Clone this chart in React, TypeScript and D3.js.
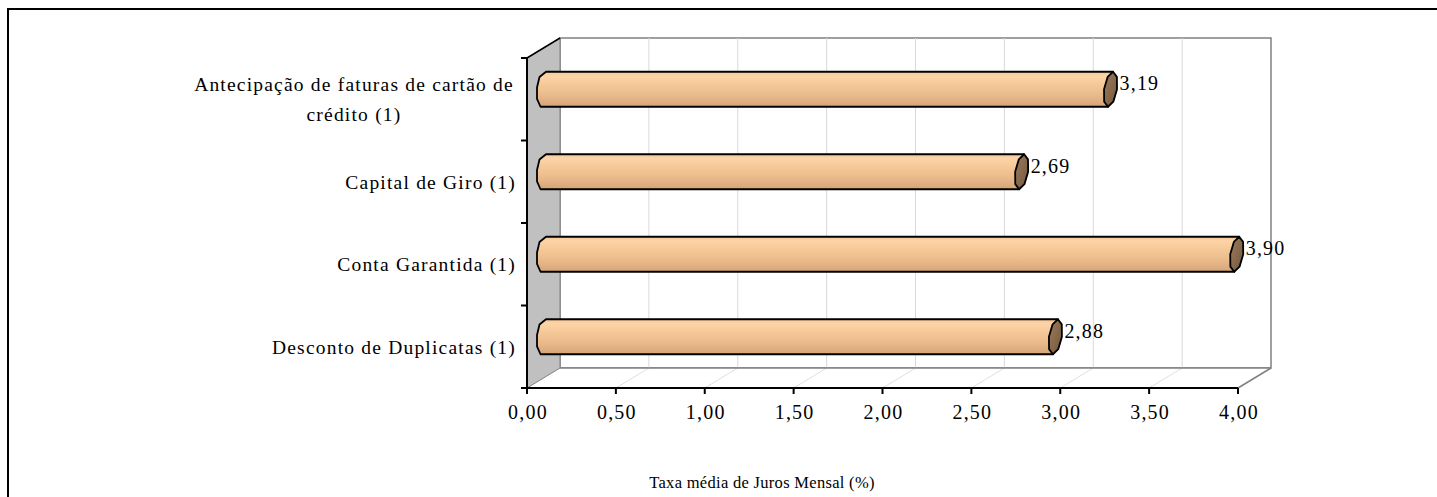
import * as d3 from "d3";
import React from "react";

// categories top -> bottom, as in the picture
const CATEGORIES = [
  ["Antecipação de faturas de cartão de", "crédito (1)"],
  ["Capital de Giro (1)"],
  ["Conta Garantida (1)"],
  ["Desconto de Duplicatas (1)"],
];
const VALUES = [3.19, 2.69, 3.9, 2.88];
const TICKS = [0, 0.5, 1, 1.5, 2, 2.5, 3, 3.5, 4];
const AXIS_TITLE = "Taxa média de Juros Mensal (%)";

const W = 1437;
const H = 497;
const FONT = "'Liberation Serif', 'Times New Roman', serif";

// 3d depth offset
const DX = 33;
const DY = -20;

const fmt = (v: number) => v.toFixed(2).replace(".", ",");

export default function App() {
  const keys = CATEGORIES.map((c) => c.join(" "));
  const x = d3.scaleLinear().domain([0, 4]).range([527, 1238]);
  const y = d3.scaleBand<string>().domain(keys).range([58, 388]);

  const top = 58, bot = 388;
  const x0 = x(0), x1 = x(4);
  const barH = 35;
  const midDx = DX / 2, midDy = DY / 2;

  const line = d3.line<[number, number]>().curve(d3.curveLinearClosed);

  // low poly slanted end of the cylinder
  const capPts = (cx: number, cy: number, ry: number): [number, number][] => {
    const rx = 6.5;
    const pts: [number, number][] = [];
    for (let k = 0; k < 8; k++) {
      const t = (k / 8) * Math.PI * 2 - Math.PI / 2;
      const sy = Math.sin(t);
      pts.push([cx + rx * Math.cos(t) - sy * 2.5, cy + ry * sy]);
    }
    return pts;
  };

  return (
    <div style={{ position: "fixed", left: 0, top: 0, width: W, height: H, background: "#fff" }}>
      <svg width={W} height={H} style={{ display: "block" }} fontFamily={FONT}>
        <defs>
          <linearGradient id="body" x1="0" y1="0" x2="0" y2="1">
            <stop offset="0%" stopColor="#f6c898" />
            <stop offset="12%" stopColor="#fdd4a8" />
            <stop offset="30%" stopColor="#f8cb9b" />
            <stop offset="55%" stopColor="#efc090" />
            <stop offset="80%" stopColor="#e2b284" />
            <stop offset="100%" stopColor="#d3a476" />
          </linearGradient>
          <linearGradient id="cap" x1="0" y1="0" x2="1" y2="1">
            <stop offset="0%" stopColor="#9a7b5c" />
            <stop offset="60%" stopColor="#84664a" />
            <stop offset="100%" stopColor="#6f553c" />
          </linearGradient>
        </defs>

        {/* outer frame */}
        <rect x={8} y={9} width={W + 20} height={H + 20} fill="none" stroke="#000" strokeWidth={2} />

        {/* back wall */}
        <rect x={x0 + DX} y={top + DY} width={x1 - x0} height={bot - top} fill="#fff" stroke="#808080" strokeWidth={1.5} />
        {TICKS.slice(1, -1).map((t) => (
          <line key={"g" + t} x1={x(t) + DX} x2={x(t) + DX} y1={top + DY} y2={bot + DY} stroke="#d9d9d9" strokeWidth={1} />
        ))}

        {/* floor */}
        <path
          d={line([[x0, bot], [x1, bot], [x1 + DX, bot + DY], [x0 + DX, bot + DY]])!}
          fill="#fff"
          stroke="none"
        />
        {TICKS.slice(1, -1).map((t) => (
          <line key={"f" + t} x1={x(t)} x2={x(t) + DX} y1={bot} y2={bot + DY} stroke="#e0e0e0" strokeWidth={1} />
        ))}
        <line x1={x1} x2={x1 + DX} y1={bot} y2={bot + DY} stroke="#808080" strokeWidth={1.5} />
        <line x1={x0 + DX} x2={x1 + DX} y1={bot + DY} y2={bot + DY} stroke="#808080" strokeWidth={1.5} />

        {/* side wall */}
        <path
          d={line([[x0, top], [x0 + DX, top + DY], [x0 + DX, bot + DY], [x0, bot]])!}
          fill="#c0c0c0"
          stroke="#808080"
          strokeWidth={1}
        />
        <line x1={x0} x2={x0 + DX} y1={top} y2={top + DY} stroke="#000" strokeWidth={1.5} />

        {/* bars */}
        {keys.map((k, i) => {
          const cy = (y(k) ?? 0) + y.bandwidth() / 2 + midDy;
          const xl = x0 + midDx;
          const xr = x(VALUES[i]) + midDx;
          const ry = barH / 2;
          const leftHalf: [number, number][] = [
            [xl + 2.5, cy - ry],
            [xl - 4, cy - ry * 0.7],
            [xl - 6.5, cy - ry * 0.1],
            [xl - 6.5, cy + ry * 0.55],
            [xl - 3, cy + ry],
          ];
          const body: [number, number][] = [
            [xl + 2.5, cy - ry],
            [xr + 2.5, cy - ry],
            [xr - 2.5, cy + ry],
            [xl - 3, cy + ry],
            ...leftHalf.slice(1, -1).reverse(),
          ];
          return (
            <g key={k}>
              <path d={line(body)!} fill="url(#body)" stroke="#000" strokeWidth={1.8} strokeLinejoin="round" />
              <path d={line(capPts(xr, cy, ry))!} fill="url(#cap)" stroke="#000" strokeWidth={1.8} strokeLinejoin="round" />
              <text x={xr + 9} y={cy - 1} dy="0.1em" fontSize={20} letterSpacing={1.2} fill="#000">
                {fmt(VALUES[i])}
              </text>
            </g>
          );
        })}

        {/* front left axis */}
        <line x1={x0} x2={x0} y1={top} y2={bot} stroke="#000" strokeWidth={2} />
        {d3.range(keys.length + 1).map((i) => {
          const yy = top + i * y.step();
          return <line key={"yt" + i} x1={x0 - 6} x2={x0} y1={yy} y2={yy} stroke="#000" strokeWidth={2} />;
        })}
        {keys.map((k, i) => {
          const lines = CATEGORIES[i];
          const cy = (y(k) ?? 0) + y.bandwidth() / 2;
          const lh = 30;
          const start = cy - ((lines.length - 1) * lh) / 2;
          const multi = lines.length > 1;
          return (
            <text key={"yl" + k} fontSize={19.5} letterSpacing={1.2} fill="#000">
              {lines.map((l, j) => (
                <tspan key={j} x={multi ? 354 : 516} y={start + j * lh} dy="0.35em" textAnchor={multi ? "middle" : "end"}>
                  {l}
                </tspan>
              ))}
            </text>
          );
        })}

        {/* bottom axis */}
        <line x1={x0} x2={x1} y1={bot} y2={bot} stroke="#000" strokeWidth={2} />
        {TICKS.map((t) => (
          <g key={"xt" + t}>
            <line x1={x(t)} x2={x(t)} y1={bot} y2={bot + 6} stroke="#000" strokeWidth={2} />
            <text x={x(t) + 1} y={412} dy="0.35em" textAnchor="middle" fontSize={20} letterSpacing={1.2} fill="#000">
              {fmt(t)}
            </text>
          </g>
        ))}

        <text x={762} y={482} dy="0.35em" textAnchor="middle" fontSize={16.5} letterSpacing={0.3} fill="#000">
          {AXIS_TITLE}
        </text>
      </svg>
    </div>
  );
}
